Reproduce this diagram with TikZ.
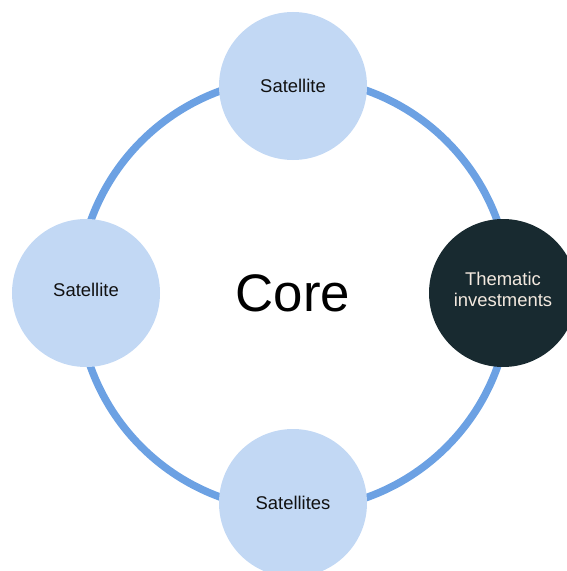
\documentclass[tikz,border=0pt]{standalone}
\usepackage{fontspec}
\setmainfont{Liberation Sans}
\definecolor{ringblue}{HTML}{6CA1E3}
\definecolor{satfill}{HTML}{C2D8F4}
\definecolor{darkfill}{HTML}{182A30}
\definecolor{cream}{HTML}{F3E9DF}
\definecolor{inkblack}{HTML}{111111}
\begin{document}
\begin{tikzpicture}[x=1bp,y=-1bp,
  satnode/.style={circle,fill=satfill,minimum size=148bp,inner sep=0pt,
    text=inkblack,font=\fontsize{18.5}{22}\selectfont},
  darknode/.style={circle,fill=darkfill,minimum size=148bp,inner sep=0pt,
    text=cream,align=center,font=\fontsize{18.5}{21}\selectfont},
  corenode/.style={inner sep=0pt,text=black,font=\fontsize{53}{60}\selectfont},
  ringline/.style={draw=ringblue,line width=7.5bp}]
\useasboundingbox (0,0) rectangle (567,571);
\clip (0,0) rectangle (567,571);
\coordinate (c) at (294,294);
\draw[ringline] (c) circle[radius=216bp];
\node[corenode] (core) at (293,293) {Core};
\node[satnode] (top) at (293,86) {Satellite};
\node[satnode,text height=13bp,text depth=6bp] (left) at (86,293) {Satellite};
\node[satnode] (bottom) at (293,503) {Satellites};
\node[darknode,yshift=0bp] (right) at (503,293) {Thematic\\investments\rule[-8bp]{0pt}{0pt}};
\end{tikzpicture}
\end{document}
